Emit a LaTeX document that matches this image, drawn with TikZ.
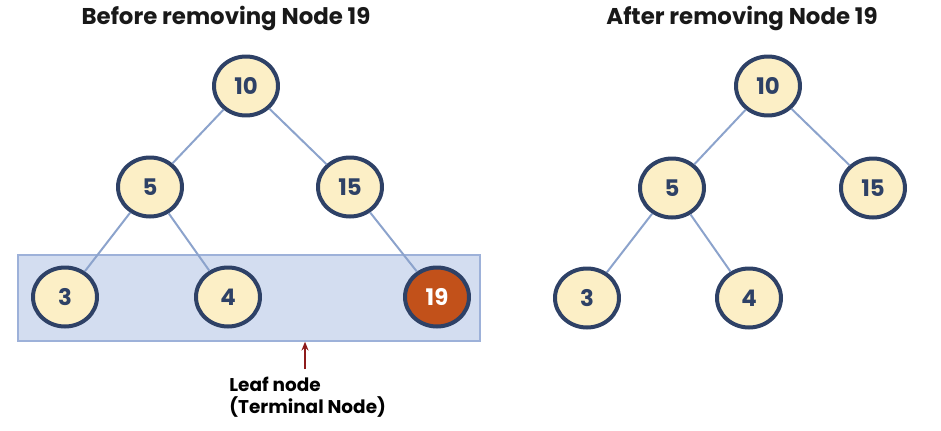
\documentclass[tikz,border=0pt]{standalone}
\usepackage{fontspec}
\setmainfont{Poppins}
\usetikzlibrary{positioning, arrows.meta, shapes}

\definecolor{nodefill}{HTML}{FCEFC6}
\definecolor{nodeline}{HTML}{2E4166}
\definecolor{edgeblue}{HTML}{8CA3CC}
\definecolor{leaffill}{HTML}{D3DDF0}
\definecolor{leafline}{HTML}{9DB1D9}
\definecolor{removedfill}{HTML}{C2511A}
\definecolor{pointred}{HTML}{8E1B1B}

\begin{document}
\begin{tikzpicture}
            [x=0.02cm, y=-0.02cm,
             vertex/.style={ellipse, draw=nodeline, fill=nodefill, line width=0.08cm,
               minimum width=1.28cm, minimum height=1.18cm, inner sep=0pt,
               text=nodeline, font=\fontsize{13}{15}\selectfont\bfseries},
             removed/.style={vertex, fill=removedfill, text=white},
             branch/.style={draw=edgeblue, line width=0.04cm},
             heading/.style={font=\fontsize{13}{15}\selectfont\bfseries, text=black!90},
             >={Stealth[length=5pt, width=4pt]}]
            \useasboundingbox (0,0) rectangle (941,430);

            % leaf row
            \node[draw=leafline, fill=leaffill, line width=0.03cm, minimum width=9.24cm,
                  minimum height=1.72cm, inner sep=0pt] (leaves) at (249,298) {};

            \node[heading] (titleL) at (226,18) {Before removing Node 19};
            \node[heading] (titleR) at (742,18) {After removing Node 19};

            % before
            \node[vertex] (L10) at (246,86) {10};
            \node[vertex] (L5) at (150,187) {5};
            \node[vertex] (L15) at (350,187) {15};
            \node[vertex] (L3) at (65,297) {3};
            \node[vertex] (L4) at (228,297) {4};
            \node[removed] (L19) at (437,297) {19};

            \path[branch] (L10) edge (L5) (L10) edge (L15);
            \path[branch] (L5) edge (L3) (L5) edge (L4);
            \path[branch] (L15) edge (L19);

            % after
            \node[vertex] (R10) at (768,86) {10};
            \node[vertex] (R5) at (672,188) {5};
            \node[vertex] (R15) at (873,188) {15};
            \node[vertex] (R3) at (587,298) {3};
            \node[vertex] (R4) at (749,298) {4};

            \path[branch] (R10) edge (R5) (R10) edge (R15);
            \path[branch] (R5) edge (R3) (R5) edge (R4);

            \node[anchor=north west, align=left, inner sep=0pt,
                  font=\fontsize{10.5}{12.5}\selectfont\bfseries] (leaftext) at (229,377)
                  {Leaf node\\(Terminal Node)};
            \coordinate (arrowfoot) at (305,369);
            \draw[->, pointred, line width=0.035cm] (arrowfoot) -- (arrowfoot |- leaves.south);
        \end{tikzpicture}
\end{document}
